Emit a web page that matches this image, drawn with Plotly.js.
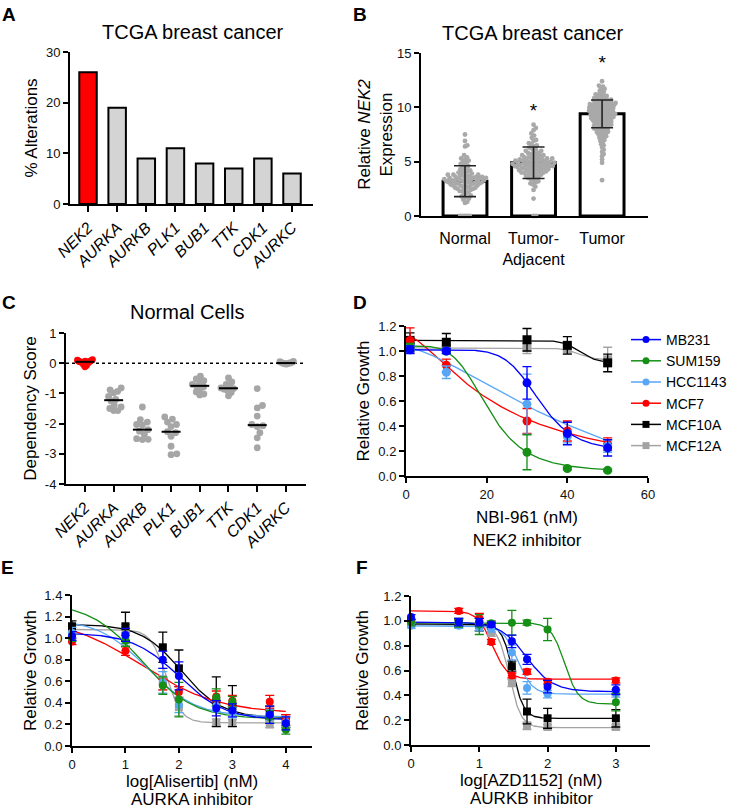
<!DOCTYPE html>
<html><head><meta charset="utf-8">
<script src="https://cdn.plot.ly/plotly-3.0.1.min.js"></script>
<style>html,body{margin:0;padding:0;background:#fff}#chart{width:733px;height:812px}</style>
</head><body><div id="chart"></div>
<script>
// ================= DATA =================
// Panel A – TCGA alterations
const genes = ['NEK2','AURKA','AURKB','PLK1','BUB1','TTK','CDK1','AURKC'];
const alterationsPct = [26, 19, 9, 11, 8, 7, 9, 6];

// Panel B – NEK2 expression
const tissueGroups = ['Normal', 'Tumor-<br>Adjacent', 'Tumor'];
const exprMean = [3.2, 4.9, 9.4];
const exprSd = [1.42, 1.45, 1.28];
const sigMarks = ['', '*', '*'];
const sigY = [null, 9.55, 13.95];
const exprNormal = [0,0,0,0,0,
 1.2,1.3,1.5,1.6,1.7,1.8,1.9,2.0,
 2.1,2.2,2.3,2.3,2.4,2.4,2.5,2.5,2.6,2.6,2.6,2.7,2.7,2.8,2.8,2.8,2.9,2.9,2.9,3.0,3.0,3.0,
 3.0,3.1,3.1,3.1,3.1,3.2,3.2,3.2,3.2,3.3,3.3,3.3,3.3,3.4,3.4,3.4,3.4,3.5,3.5,3.5,3.5,3.6,3.6,3.6,3.6,3.7,3.7,3.7,3.8,3.8,3.8,3.9,3.9,4.0,4.0,
 4.1,4.2,4.2,4.3,4.4,4.5,4.6,4.7,4.8,4.9,5.0,5.1,5.2,5.3,5.4,5.6,
 6.4,6.5,6.9,7.5];
const exprAdjacent = [0,0,1.6,
 2.4,2.7,2.9,3.0,3.1,3.2,3.3,3.4,3.5,3.5,3.6,3.7,3.7,3.8,3.8,3.9,3.9,4.0,4.0,4.0,4.1,4.1,4.1,4.2,4.2,4.2,4.3,4.3,4.3,
 4.4,4.4,4.4,4.5,4.5,4.5,4.5,4.6,4.6,4.6,4.6,4.7,4.7,4.7,4.7,4.8,4.8,4.8,4.8,4.9,4.9,4.9,4.9,5.0,5.0,5.0,5.0,
 5.1,5.1,5.1,5.1,5.2,5.2,5.2,5.3,5.3,5.3,5.4,5.4,5.4,5.5,5.5,5.6,5.6,5.7,5.7,5.8,5.8,5.9,6.0,6.0,6.1,6.2,6.3,
 6.4,6.5,6.6,6.7,6.9,7.0,7.2,7.4,7.6,7.9,8.1,8.4];
const exprTumor = [3.3,
 4.9,5.2,5.5,5.7,5.9,6.1,6.3,6.5,6.6,6.8,6.9,7.0,7.1,7.2,7.3,7.35,7.4,7.5,7.55,7.6,7.65,7.7,7.75,7.8,7.85,7.9,7.95,
 8.0,8.0,8.05,8.1,8.15,8.2,8.2,8.25,8.3,8.3,8.35,8.4,8.4,8.45,8.5,8.5,8.55,8.6,8.6,8.65,8.7,8.7,8.75,8.8,8.8,8.85,8.9,8.9,8.95,
 9.0,9.0,9.0,9.05,9.1,9.1,9.15,9.2,9.2,9.2,9.25,9.3,9.3,9.3,9.35,9.4,9.4,9.4,9.45,9.5,9.5,9.5,9.55,9.6,9.6,9.6,9.65,9.7,9.7,9.7,9.75,
 9.8,9.8,9.8,9.85,9.9,9.9,9.9,9.95,10.0,10.0,10.0,10.05,10.1,10.1,10.1,10.15,10.2,10.2,10.2,10.25,10.3,10.3,10.3,10.35,
 10.4,10.4,10.4,10.45,10.5,10.5,10.55,10.6,10.6,10.65,10.7,10.7,10.75,10.8,10.8,10.85,10.9,10.95,11.0,11.05,11.1,11.15,11.2,
 11.3,11.4,11.5,11.6,11.7,11.8,11.9,12.0,12.4];

// Panel C – dependency scores in normal cells
const depNEK2  = [0.12,0.1,0.08,0.07,0.06,0.05,0.04,0.02,0.0,-0.04,-0.08,-0.12];
const depAURKA = [-0.82,-0.88,-0.93,-0.98,-1.1,-1.2,-1.25,-1.38,-1.45,-1.5,-1.57,-1.57];
const depAURKB = [-1.45,-1.87,-1.95,-2.03,-2.05,-2.2,-2.25,-2.35,-2.5,-2.52,-2.53];
const depPLK1  = [-1.78,-1.85,-1.95,-2.03,-2.1,-2.27,-2.3,-2.42,-2.75,-3.0,-3.03];
const depBUB1  = [-0.43,-0.52,-0.58,-0.62,-0.7,-0.75,-0.78,-0.85,-0.95,-1.02,-1.05];
const depTTK   = [-0.49,-0.62,-0.7,-0.75,-0.82,-0.84,-0.86,-0.9,-0.97,-1.08];
const depCDK1  = [-0.84,-1.4,-1.48,-1.75,-2.03,-2.07,-2.1,-2.3,-2.47,-2.8];
const depAURKC = [0.06,0.05,0.03,0.02,0.01,0.0,0.0,-0.01,-0.02,-0.03];
const depTickVals = [-4,-3,-2,-1,0,1];
const depTickText = ['-4','-3','-2','-1','0','1'];

// Panels D-F – cell lines
const cellLines = ['MB231','SUM159','HCC1143','MCF7','MCF10A','MCF12A'];
const lineColors = ['#0000ff','#168f16','#58a6f6','#ff0000','#000000','#a3a3a3'];
const lineSymbols = ['circle','circle','circle','circle','square','square'];
const drawOrder = [5, 4, 3, 2, 1, 0];

// D – NBI-961 (nM), linear dose
const nbiDose = [1, 10, 30, 40, 50];
const nbiGrowth = [
 [1.01, 1.0, 0.745, 0.34, 0.225],
 [1.03, 1.0, 0.19, 0.06, 0.045],
 [1.02, 0.83, 0.575, 0.315, 0.24],
 [1.085, 0.885, 0.44, 0.36, 0.255],
 [1.085, 1.07, 1.09, 1.045, 0.905],
 [1.03, 1.02, 1.03, 1.02, 0.93]];
const nbiErr = [
 [0.03, 0.02, 0.13, 0.09, 0.065],
 [0.03, 0.02, 0.14, 0.01, 0.01],
 [0.03, 0.05, 0.24, 0.05, 0.05],
 [0.1, 0.05, 0.1, 0.08, 0.05],
 [0.06, 0.07, 0.09, 0.07, 0.07],
 [0.02, 0.02, 0.05, 0.04, 0.1]];
// fit [top, bottom, EC50, hill]
const nbiFit = [
 [1.01, 0.20, 33, 7.57],
 [1.04, 0.03, 20.4, 4.32],
 [1.03, -0.5, 51.6, 1.5],
 [1.13, 0.0, 23, 1.5],
 [1.085, 0.905, 43, 20],
 [1.025, 0.925, 43, 20]];

// E – log[Alisertib]
const aliLogDose = [0, 1, 1.699, 2, 2.699, 3, 3.699, 4];
const aliGrowth = [
 [1.02, 1.03, 0.80, 0.65, 0.35, 0.33, 0.29, 0.21],
 [1.0, 0.975, 0.56, 0.43, 0.45, 0.41, 0.27, 0.15],
 [1.05, 1.0, 0.59, 0.38, 0.37, 0.31, 0.29, 0.22],
 [0.97, 0.88, 0.57, 0.50, 0.46, 0.42, 0.41, 0.24],
 [1.11, 1.11, 0.915, 0.72, 0.41, 0.37, 0.31, 0.23],
 [1.08, 1.09, 0.62, 0.36, 0.22, 0.215, 0.2, 0.2]];
const aliErr = [
 [0.04, 0.06, 0.08, 0.13, 0.07, 0.06, 0.08, 0.06],
 [0.03, 0.05, 0.08, 0.16, 0.08, 0.05, 0.06, 0.04],
 [0.05, 0.05, 0.1, 0.07, 0.05, 0.05, 0.05, 0.05],
 [0.03, 0.04, 0.05, 0.05, 0.05, 0.05, 0.06, 0.05],
 [0.05, 0.13, 0.14, 0.17, 0.23, 0.19, 0.06, 0.06],
 [0.04, 0.04, 0.1, 0.08, 0.03, 0.03, 0.03, 0.03]];
// fit [top, bottom, logEC50, hill]
const aliFit = [
 [1.05, 0.24, 2.0, 1.0],
 [1.33, 0.25, 1.3, 0.9],
 [1.18, 0.27, 1.4, 0.95],
 [1.2, 0.3, 1.3, 0.6],
 [1.13, 0.26, 2.05, 1.15],
 [1.08, 0.215, 1.76, 3]];

// F – log[AZD1152]
const azdLogDose = [0, 0.699, 1, 1.176, 1.477, 1.699, 2, 3];
const azdGrowth = [
 [1.03, 0.99, 0.99, 0.97, 0.835, 0.69, 0.47, 0.445],
 [0.99, 0.98, 0.97, 0.98, 0.985, 0.985, 0.93, 0.345],
 [0.96, 0.96, 0.95, 0.94, 0.745, 0.46, 0.41, 0.415],
 [0.99, 1.08, 1.02, 0.83, 0.56, 0.59, 0.51, 0.52],
 [0.99, 0.99, 0.97, 0.96, 0.635, 0.27, 0.215, 0.215],
 [0.97, 0.98, 0.95, 0.905, 0.5, 0.155, 0.145, 0.145]];
const azdErr = [
 [0.02, 0.03, 0.03, 0.02, 0.05, 0.04, 0.05, 0.04],
 [0.03, 0.03, 0.08, 0.02, 0.1, 0.02, 0.09, 0.07],
 [0.02, 0.02, 0.03, 0.03, 0.06, 0.05, 0.03, 0.03],
 [0.02, 0.02, 0.04, 0.02, 0.02, 0.02, 0.02, 0.02],
 [0.02, 0.03, 0.05, 0.02, 0.04, 0.1, 0.08, 0.07],
 [0.02, 0.03, 0.03, 0.03, 0.03, 0.03, 0.02, 0.02]];
const azdFit = [
 [0.99, 0.43, 1.69, 2.24],
 [0.985, 0.33, 2.25, 4.3],
 [0.96, 0.41, 1.56, 4],
 [1.08, 0.53, 1.19, 4],
 [0.975, 0.215, 1.49, 5.3],
 [0.97, 0.14, 1.44, 5]];

// ================= LAYOUT HELPERS =================
const FONT = 'Arial, "Liberation Sans", Helvetica, sans-serif';
const W = 733, H = 812;
const box = {
  A:{l:70,r:313,t:52,b:204}, B:{l:421,r:648,t:53,b:216}, C:{l:66,r:306,t:333,b:484},
  D:{l:406,r:648,t:326,b:476}, E:{l:72,r:312,t:595,b:746}, F:{l:411,r:650,t:596,b:745}
};
const xr = {A:[-0.618,7.72], B:[-0.642,2.67], C:[-0.66,7.70], D:[0,60], E:[0,4.49], F:[0,3.5]};
const yr = {A:[0,30], B:[0,15], C:[-4,1], D:[0,1.2], E:[0,1.4], F:[0,1.2]};
function dx(k){ return [box[k].l/W, box[k].r/W]; }
function dy(k){ return [1-box[k].b/H, 1-box[k].t/H]; }
function pxPerX(k){ return (box[k].r-box[k].l)/(xr[k][1]-xr[k][0]); }
function pxPerY(k){ return (box[k].b-box[k].t)/(yr[k][1]-yr[k][0]); }

function baseAxis(extra){
  return Object.assign({
    showline:true, linecolor:'#000', linewidth:2, ticks:'outside', ticklen:5, tickwidth:2,
    tickcolor:'#000', showgrid:false, zeroline:false, fixedrange:true,
    tickfont:{family:FONT, size:13, color:'#111'}
  }, extra);
}

// beeswarm layout (pixel space), returns x offsets in px
function swarm(values, pxUnit, minDist, maxHalf){
  const order = values.map((v,i)=>i).sort((a,b)=>values[a]-values[b]);
  const placed = []; const off = new Array(values.length).fill(0);
  for (const i of order){
    const y = values[i]*pxUnit;
    const near = placed.filter(p => Math.abs(p.y-y) < minDist);
    const cands = [0];
    near.forEach(p => { const d = Math.sqrt(minDist*minDist-(p.y-y)*(p.y-y)); cands.push(p.x+d, p.x-d); });
    cands.sort((a,b)=>Math.abs(a)-Math.abs(b) || b-a);
    let x = 0;
    for (const c of cands){
      if (near.every(p => (p.x-c)*(p.x-c)+(p.y-y)*(p.y-y) >= minDist*minDist-1e-6)){ x = c; break; }
    }
    placed.push({x,y}); off[i] = x;
  }
  const m = Math.max(...off.map(Math.abs));
  const s = m > maxHalf ? maxHalf/m : 1;
  return off.map(o=>o*s);
}
function median(a){ const s=[...a].sort((p,q)=>p-q); const n=s.length; return n%2? s[(n-1)/2] : (s[n/2-1]+s[n/2])/2; }
function sampleRange(a,b,n){ const o=[]; for(let i=0;i<=n;i++) o.push(a+(b-a)*i/n); return o; }
function pl4lin(x,p){ return p[1]+(p[0]-p[1])/(1+Math.pow(x/p[2],p[3])); }
function pl4log(x,p){ return p[1]+(p[0]-p[1])/(1+Math.pow(10,(x-p[2])*p[3])); }

const traces = [];

// ---------- A ----------
traces.push({type:'bar', x:genes.map((g,i)=>i), y:alterationsPct, xaxis:'x', yaxis:'y', width:0.6,
  marker:{color:genes.map((g,i)=> i===0 ? '#ff0000' : '#d4d4d4'), line:{color:'#000', width:2}},
  showlegend:false, hoverinfo:'skip'});

// ---------- B ----------
traces.push({type:'bar', x:[0,1,2], y:exprMean, xaxis:'x2', yaxis:'y2', width:0.64,
  marker:{color:'#ffffff', line:{color:'#000', width:3}}, showlegend:false, hoverinfo:'skip'});
const groupsB = [exprNormal, exprAdjacent, exprTumor];
const swarmParamsB = [[4.6,21],[4.4,21],[2.7,21.5]];
groupsB.forEach((vals, g) => {
  const off = swarm(vals, pxPerY('B'), swarmParamsB[g][0], swarmParamsB[g][1]);
  traces.push({type:'scatter', mode:'markers', x:off.map(o=>g+o/pxPerX('B')), y:vals, xaxis:'x2', yaxis:'y2',
    marker:{size:4.8, color:'#a9a9a9'}, cliponaxis:false, showlegend:false, hoverinfo:'skip'});
});
traces.push({type:'scatter', mode:'markers', x:[0,1,2], y:exprMean, xaxis:'x2', yaxis:'y2',
  marker:{size:1, color:'rgba(0,0,0,0)'}, error_y:{type:'data', array:exprSd, visible:true, color:'#222', thickness:1.6, width:11},
  showlegend:false, hoverinfo:'skip'});
traces.push({type:'scatter', mode:'text', x:[0,1,2], y:sigY, text:sigMarks, xaxis:'x2', yaxis:'y2',
  textfont:{family:FONT, size:19, color:'#000'}, textposition:'middle center', showlegend:false, hoverinfo:'skip', cliponaxis:false});

// ---------- C ----------
const depScores = [depNEK2, depAURKA, depAURKB, depPLK1, depBUB1, depTTK, depCDK1, depAURKC];
const grayX = [], grayY = [], redX = [], redY = [], medX = [], medY = [];
depScores.forEach((vals, g) => {
  const off = swarm(vals, pxPerY('C'), 5.8, 7.5);
  vals.forEach((v,i) => {
    const xv = g + off[i]/pxPerX('C');
    if (g === 0){ redX.push(xv); redY.push(v); } else { grayX.push(xv); grayY.push(v); }
  });
  const m = median(vals);
  medX.push(g-0.33, g+0.33, null); medY.push(m, m, null);
});
traces.push({type:'scatter', mode:'markers', x:grayX, y:grayY, xaxis:'x3', yaxis:'y3',
  marker:{size:6.8, color:'#a6a6a6'}, showlegend:false, hoverinfo:'skip', cliponaxis:false});
traces.push({type:'scatter', mode:'markers', x:redX, y:redY, xaxis:'x3', yaxis:'y3',
  marker:{size:6.8, color:'#ff0000'}, showlegend:false, hoverinfo:'skip', cliponaxis:false});
traces.push({type:'scatter', mode:'lines', x:medX, y:medY, xaxis:'x3', yaxis:'y3',
  line:{color:'#000', width:2}, showlegend:false, hoverinfo:'skip'});

// ---------- D, E, F ----------
function addDose(ax, ay, doses, growth, err, fit, fn, xFrom, xTo, msize, legend){
  drawOrder.forEach(s => {
    const cx = sampleRange(xFrom, xTo, 240);
    traces.push({type:'scatter', mode:'lines', x:cx, y:cx.map(v=>fn(v, fit[s])), xaxis:ax, yaxis:ay,
      line:{color:lineColors[s], width:1.3}, showlegend:false, hoverinfo:'skip'});
  });
  drawOrder.forEach(s => {
    traces.push({type:'scatter', mode:'markers', x:doses, y:growth[s], xaxis:ax, yaxis:ay,
      marker:{symbol:lineSymbols[s], size:msize, color:lineColors[s]},
      error_y:{type:'data', array:err[s], visible:true, color:lineColors[s], thickness:1.3, width:4.5},
      showlegend:false, hoverinfo:'skip', cliponaxis:false});
  });
  if (legend){
    cellLines.forEach((name, s) => {
      traces.push({type:'scatter', mode:'lines+markers', x:[null], y:[null], xaxis:ax, yaxis:ay, name:name,
        marker:{symbol:lineSymbols[s], size:7, color:lineColors[s]}, line:{color:lineColors[s], width:1.5},
        showlegend:true, hoverinfo:'skip'});
    });
  }
}
addDose('x4','y4', nbiDose, nbiGrowth, nbiErr, nbiFit, pl4lin, 1, 50, 9, true);
addDose('x5','y5', aliLogDose, aliGrowth, aliErr, aliFit, pl4log, 0, 4, 8, false);
addDose('x6','y6', azdLogDose, azdGrowth, azdErr, azdFit, pl4log, 0, 3, 8, false);

// ================= LAYOUT =================
const titleFont = {family:FONT, size:17, color:'#000'};
const layout = {
  width:W, height:H, margin:{l:0,r:0,t:0,b:0}, paper_bgcolor:'#fff', plot_bgcolor:'rgba(0,0,0,0)',
  font:{family:FONT, color:'#000'}, showlegend:true, hovermode:false,
  legend:{x:626/W, y:1-324/H, xanchor:'left', yanchor:'top', font:{family:FONT, size:14, color:'#000'},
    bgcolor:'rgba(0,0,0,0)', tracegroupgap:0, itemwidth:30},
  xaxis: baseAxis({domain:dx('A'), anchor:'y', range:xr.A, tickmode:'array', tickvals:genes.map((g,i)=>i), ticktext:genes,
    tickangle:-45, ticklen:6, tickfont:{family:FONT, size:16, style:'italic', color:'#000'}}),
  yaxis: baseAxis({domain:dy('A'), anchor:'x', range:yr.A, dtick:10, title:{text:'% Alterations', font:titleFont, standoff:4}}),
  xaxis2: baseAxis({domain:dx('B'), anchor:'y2', range:xr.B, tickmode:'array', tickvals:[0,1,2], ticktext:tissueGroups,
    ticklen:7, tickcolor:'rgba(0,0,0,0)', tickfont:{family:FONT, size:16, color:'#000'}}),
  yaxis2: baseAxis({domain:dy('B'), anchor:'x2', range:yr.B, dtick:5,
    title:{text:'Relative <i>NEK2</i><br>Expression', font:titleFont, standoff:0}}),
  xaxis3: baseAxis({domain:dx('C'), anchor:'y3', range:xr.C, tickmode:'array', tickvals:genes.map((g,i)=>i), ticktext:genes,
    tickangle:-45, ticklen:6, tickfont:{family:FONT, size:16, style:'italic', color:'#000'}}),
  yaxis3: baseAxis({domain:dy('C'), anchor:'x3', range:yr.C, tickmode:'array', tickvals:depTickVals, ticktext:depTickText,
    title:{text:'Dependency Score', font:titleFont, standoff:4}}),
  xaxis4: baseAxis({domain:dx('D'), anchor:'y4', range:xr.D, dtick:20,
    title:{text:'NBI-961 (nM)<br>NEK2 inhibitor', font:titleFont, standoff:11}}),
  yaxis4: baseAxis({domain:dy('D'), anchor:'x4', range:yr.D, dtick:0.2, tickformat:'.1f',
    title:{text:'Relative Growth', font:titleFont, standoff:4}}),
  xaxis5: baseAxis({domain:dx('E'), anchor:'y5', range:xr.E, tickmode:'array', tickvals:[0,1,2,3,4]}),
  yaxis5: baseAxis({domain:dy('E'), anchor:'x5', range:yr.E, dtick:0.2, tickformat:'.1f',
    title:{text:'Relative Growth', font:titleFont, standoff:3}}),
  xaxis6: baseAxis({domain:dx('F'), anchor:'y6', range:xr.F, tickmode:'array', tickvals:[0,1,2,3]}),
  yaxis6: baseAxis({domain:dy('F'), anchor:'x6', range:yr.F, dtick:0.2, tickformat:'.1f',
    title:{text:'Relative Growth', font:titleFont, standoff:10}}),
  shapes:[{type:'line', xref:'x3 domain', x0:0, x1:1, yref:'y3', y0:0, y1:0, layer:'below',
    line:{color:'#000', width:1.5, dash:'dot'}}],
  annotations:[]
};
function ann(text, px, py, size, bold){
  layout.annotations.push({text: bold ? '<b>'+text+'</b>' : text, xref:'paper', yref:'paper', x:px/W, y:1-py/H,
    xanchor:'center', yanchor:'middle', showarrow:false, font:{family:FONT, size:size, color:'#000'}});
}
ann('TCGA breast cancer', 193, 32, 20);
ann('TCGA breast cancer', 533, 33, 20);
ann('Normal Cells', 187, 312, 20);
ann('log[Alisertib] (nM)', 192, 781, 17);
ann('AURKA inhibitor', 192, 799, 17);
ann('log[AZD1152] (nM)', 531, 780, 17);
ann('AURKB inhibitor', 531, 798, 17);
ann('A', 9, 14, 19, true); ann('B', 360, 14, 19, true);
ann('C', 9, 303, 19, true); ann('D', 360, 303, 19, true);
ann('E', 7, 567, 19, true); ann('F', 362, 567, 19, true);

Plotly.newPlot('chart', traces, layout, {displayModeBar:false, staticPlot:true});
</script></body></html>
